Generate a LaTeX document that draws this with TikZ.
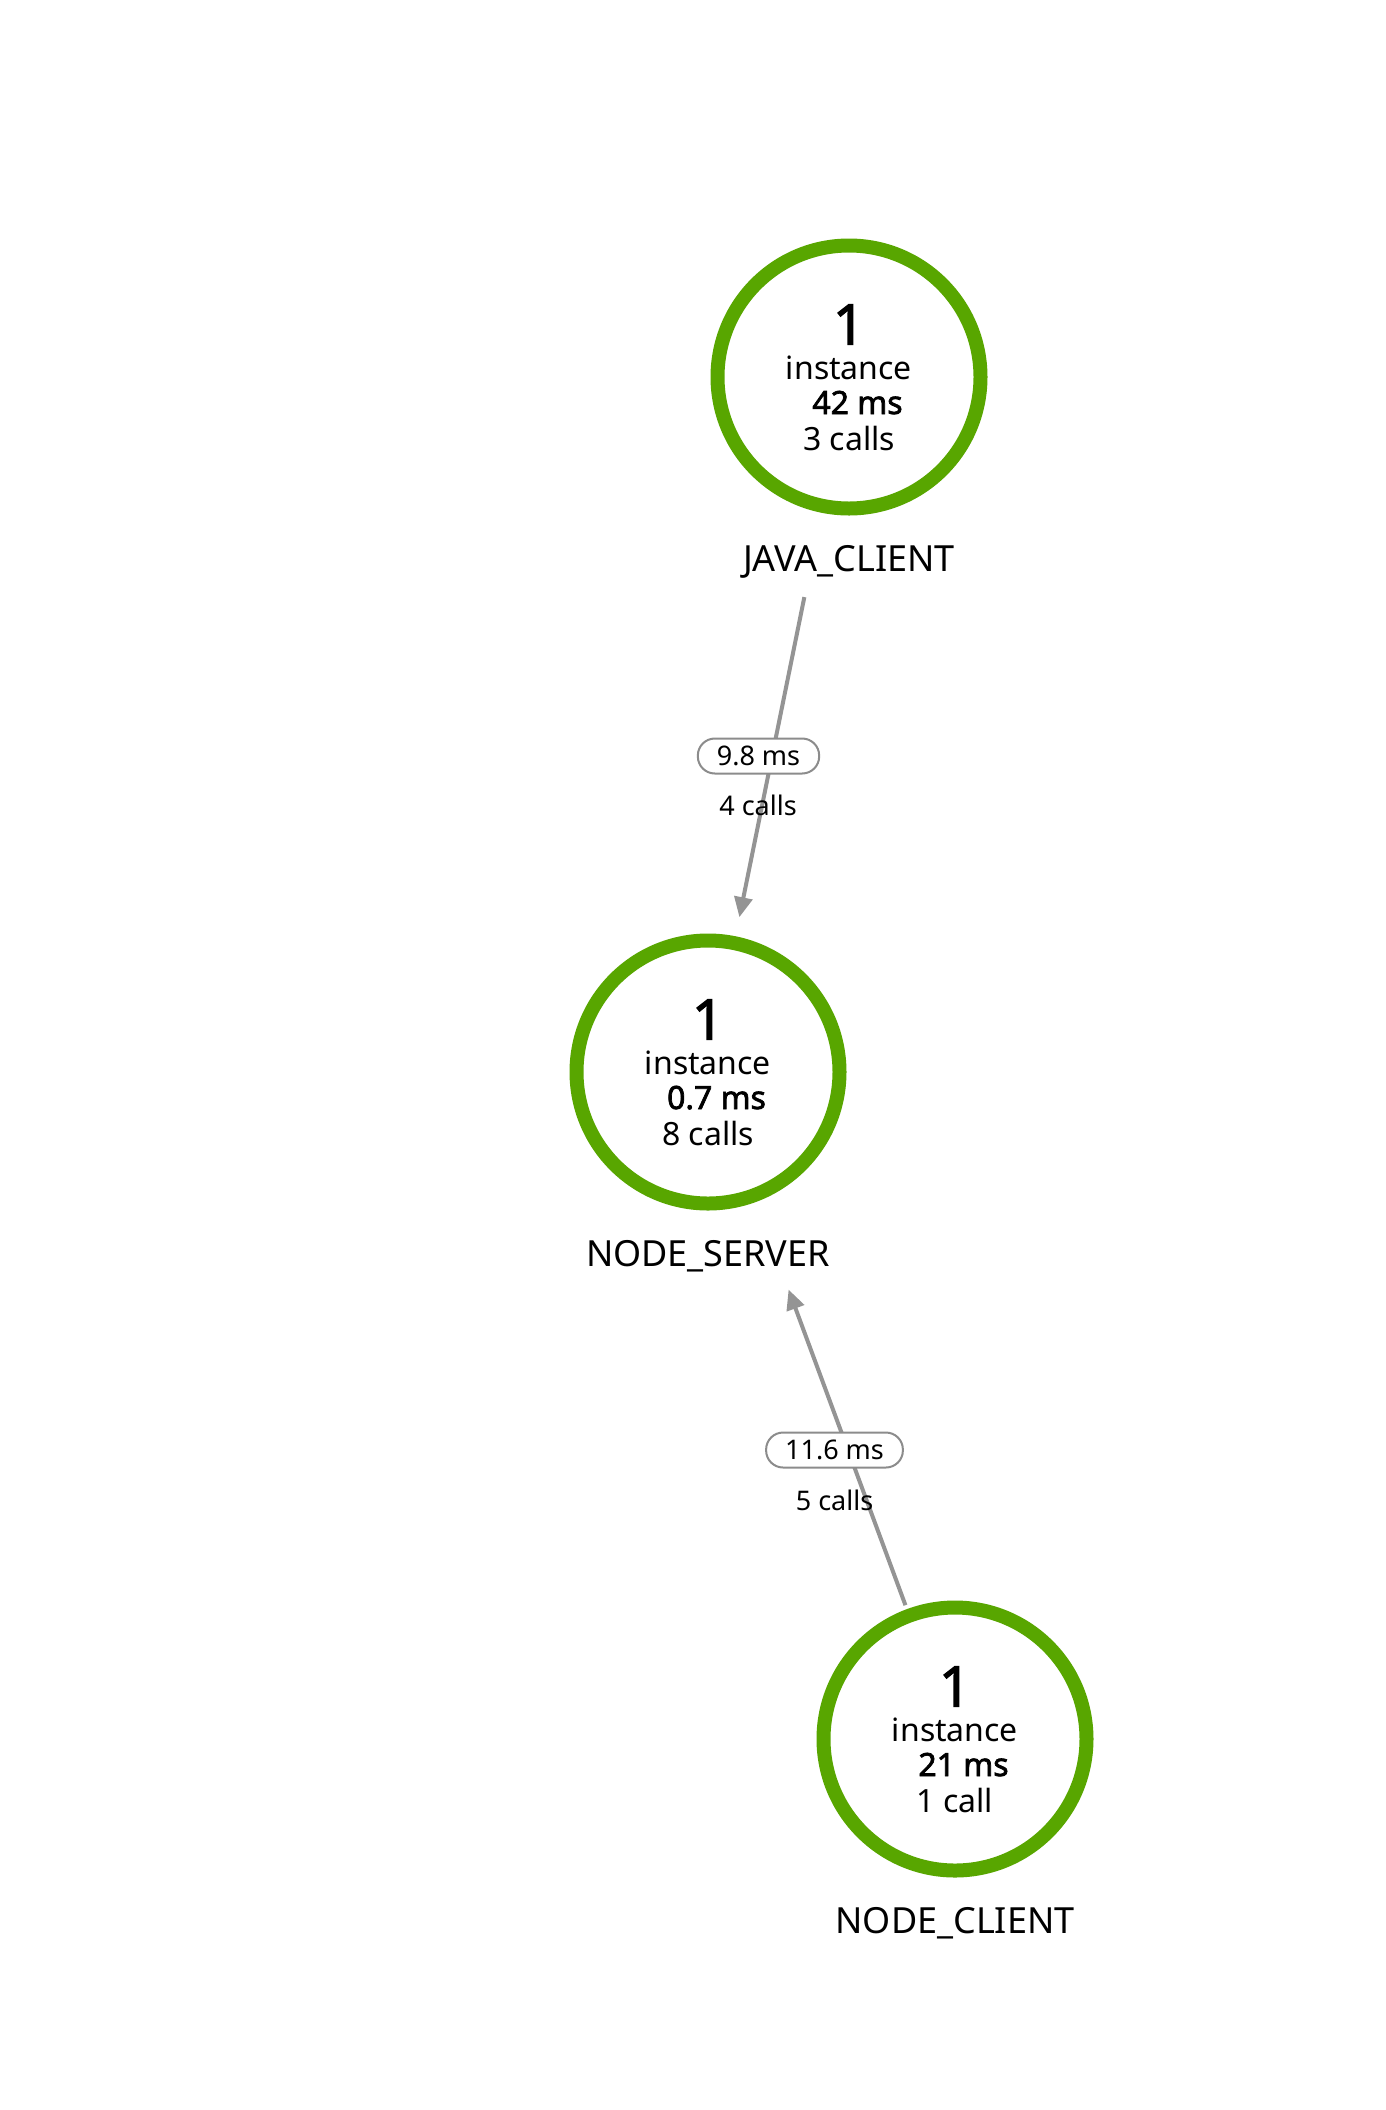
\documentclass[tikz,border=0pt]{standalone}
\usepackage{fontspec}
\setmainfont{Noto Sans}[AutoFakeBold=2.2]
\usetikzlibrary{arrows.meta,calc}
\definecolor{ringgreen}{RGB}{88,166,0}
\definecolor{edgegray}{RGB}{148,148,148}
\definecolor{pillgray}{RGB}{140,140,140}
\begin{document}
\begin{tikzpicture}[x=1pt,y=-1pt,
  ring/.style={circle, draw=ringgreen, line width=14pt, minimum size=263pt, inner sep=0pt, fill=white},
  bigone/.style={anchor=base, inner sep=0pt, font=\fontsize{56}{56}\selectfont\bfseries},
  innertext/.style={anchor=base, inner sep=0pt, font=\fontsize{32}{32}\selectfont},
  boldms/.style={anchor=base, inner sep=0pt, font=\fontsize{32}{32}\selectfont\bfseries},
  svcname/.style={anchor=base, inner sep=0pt, font=\fontsize{36}{36}\selectfont},
  edge/.style={draw=edgegray, line width=4pt, -{Triangle[length=20pt,width=18pt]}},
  pill/.style={draw=pillgray, line width=2pt, fill=white, rounded corners=17pt, minimum height=35pt, inner xsep=19pt, inner ysep=0pt, font=\fontsize{27}{27}\selectfont},
  elabel/.style={anchor=base, inner sep=0pt, font=\fontsize{27}{27}\selectfont}]
\useasboundingbox (0,0) rectangle (1386,2110);
\fill[white] (0,0) rectangle (1386,2110);

% service circles
\node[ring] (java) at (849,377) {};
\node[ring] (nserver) at (708,1072) {};
\node[ring] (nclient) at (955,1739) {};

% connectors
\draw[edge, shorten <=224.6pt, shorten >=158pt] (java.center) -- (nserver.center);
\draw[edge, shorten <=142.7pt, shorten >=232pt] (nclient.center) -- (nserver.center);

% JAVA_CLIENT texts
\node[bigone] (j1) at ($(java.center)+(0,-32.5)$) {1};
\node[innertext] (j2) at ($(java.center)+(0,2)$) {instance};
\node[boldms] (j3) at ($(java.center)+(8.5,37)$) {42 ms};
\node[innertext] (j4) at ($(java.center)+(0,73)$) {3 calls};
\node[svcname] (j5) at ($(java.center)+(0,194)$) {JAVA\_CLIENT};

% NODE_SERVER texts
\node[bigone] (s1) at ($(nserver.center)+(0,-32.5)$) {1};
\node[innertext] (s2) at ($(nserver.center)+(0,2)$) {instance};
\node[boldms] (s3) at ($(nserver.center)+(8.5,37)$) {0.7 ms};
\node[innertext] (s4) at ($(nserver.center)+(0,73)$) {8 calls};
\node[svcname] (s5) at ($(nserver.center)+(0,194)$) {NODE\_SERVER};

% NODE_CLIENT texts
\node[bigone] (c1) at ($(nclient.center)+(0,-32.5)$) {1};
\node[innertext] (c2) at ($(nclient.center)+(0,2)$) {instance};
\node[boldms] (c3) at ($(nclient.center)+(8.5,37)$) {21 ms};
\node[innertext] (c4) at ($(nclient.center)+(0,73)$) {1 call};
\node[svcname] (c5) at ($(nclient.center)+(0,194)$) {NODE\_CLIENT};

% edge labels
\node[pill] (p1) at (758.5,756) {9.8 ms};
\node[elabel] (l1) at (758,815) {4 calls};
\node[pill] (p2) at (834.5,1450) {11.6 ms};
\node[elabel] (l2) at (834.5,1510) {5 calls};
\end{tikzpicture}
\end{document}
